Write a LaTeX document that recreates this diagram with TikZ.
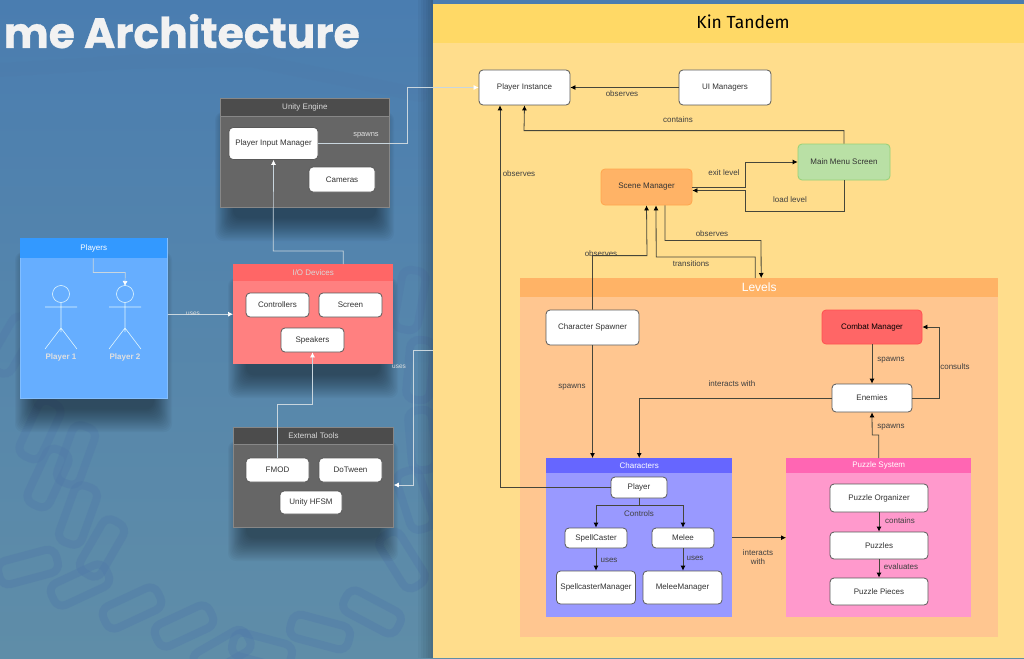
\documentclass[tikz,border=0pt]{standalone}
\usepackage{fontspec}
\setmainfont{Liberation Sans}
\newfontfamily\titlefont[BoldFeatures={FakeBold=0.7}]{Poppins}
\newfontfamily\kinfont{Fira Sans}
\usetikzlibrary{calc,arrows.meta}
\definecolor{bgtop}{HTML}{4A7DB0}
\definecolor{bgbot}{HTML}{5F8DA8}
\definecolor{chainblue}{HTML}{5079A8}
\definecolor{panelhead}{HTML}{FFD966}
\definecolor{panelbody}{HTML}{FFDD8C}
\definecolor{levelhead}{HTML}{FFB366}
\definecolor{levelbody}{HTML}{FFC690}
\definecolor{edgeline}{HTML}{C9D6DE}
\definecolor{edgedark}{HTML}{46463A}
\definecolor{menufill}{HTML}{B9E0A5}
\definecolor{menuline}{HTML}{97D077}
\definecolor{scenefill}{HTML}{FFB366}
\definecolor{sceneline}{HTML}{FFA64D}
\definecolor{combatfill}{HTML}{FF6666}
\definecolor{combatline}{HTML}{FF5050}
\definecolor{playerbody}{HTML}{66AEFF}
\definecolor{playerhead}{HTML}{3399FF}
\definecolor{playerline}{HTML}{82BEFF}
\definecolor{iobody}{HTML}{FF8080}
\definecolor{iohead}{HTML}{FF6666}
\definecolor{charbody}{HTML}{9999FF}
\definecolor{charhead}{HTML}{6666FF}
\definecolor{puzzlebody}{HTML}{FF99CC}
\definecolor{puzzlehead}{HTML}{FF66B3}
\tikzset{
    box/.style={draw=#1,fill=white,rounded corners=4,line width=.8,inner sep=0,font=\fontsize{8}{9}\selectfont,text=black!80},
    box/.default={black!65},
    lbl/.style={inner sep=0,font=\fontsize{8}{9}\selectfont,text=black!75,align=center},
    wlbl/.style={inner sep=0,font=\fontsize{7.5}{9}\selectfont,text=white!88!black},
    head/.style={inner sep=0,anchor=north,text=white,font=\fontsize{8}{9}\selectfont},
    larr/.style={edgeline,line width=.7,-{Latex[length=5,width=5,color=white]}},
    darr/.style={edgedark,line width=.8,-{Latex[length=5,width=5,color=black]}},
    limb/.style={white!88!cyan,line width=.6},
    chainlink/.style={chainblue,line width=8,rounded corners=9,opacity=.4},
}
\newcommand{\softshadow}[4]{%
    \foreach \i in {0,...,15}
        \fill[black,opacity=.032,rounded corners=8] ({#1-5+1.2*\i},{#2+14}) rectangle ({#3+5-1.2*\i},{#4+34-1.5*\i});
}
\begin{document}
\begin{tikzpicture}[x=1pt,y=-1pt]
    \useasboundingbox (0,0) rectangle (1024,658);
    \clip (0,0) rectangle (1024,658);
    % background
    \shade[top color=bgtop,bottom color=bgbot,middle color=bgbot!55!bgtop] (0,0) rectangle (1024,658);
    \draw[chainblue,line width=14,opacity=.2,line cap=round] (0,70)--(130,62)--(250,60)--(420,95);
    \foreach \x/\y/\a in {12/345/60,40/430/65,76/455/70,48/478/65,78/515/70,102/548/60,
                          28/567/15,80/585/25,132/608/25,184/626/25,222/652/30,
                          262/650/-15,320/632/-15,372/612/-28,402/560/-58,415/500/-72,422/440/-85,420/370/-95,410/300/-100}
        \draw[chainlink,rotate around={\a:(\x,\y)}] ({\x-30},{\y-12}) rectangle ({\x+30},{\y+12});
    % title
    \node[anchor=base east,inner sep=0,text=white!95!black,font=\titlefont\fontsize{42.5}{46}\selectfont\bfseries] (title) at (360,48) {me Architecture};
    % shadows
    \softshadow{220}{98}{389}{207}
    \softshadow{20}{238}{167}{398}
    \softshadow{233}{264}{393}{364}
    \softshadow{233}{427}{393}{527}
    \foreach \i in {1,...,6}
        \fill[black,opacity=.035] ({433-2.5*\i},0) rectangle (433,658);
    % kin tandem panel
    \node[fill=panelbody,inner sep=0,minimum width=591,minimum height=654,anchor=north west] (kin) at (433,4) {};
    \node[fill=panelhead,inner sep=0,minimum width=591,minimum height=39,anchor=north west] (kinhead) at (433,4) {};
    \node[inner sep=0,font=\kinfont\fontsize{17.5}{20}\selectfont,text=black] (kintitle) at (743,22) {Kin Tandem};
    % levels
    \node[fill=levelbody,inner sep=0,minimum width=478,minimum height=359,anchor=north west] (levels) at (520,278) {};
    \node[fill=levelhead,inner sep=0,minimum width=478,minimum height=19,anchor=north west,text=white,font=\fontsize{12}{14}\selectfont] (levelshead) at (520,278) {Levels};
    % unity engine
    \node[fill=black!60,draw=black!47,line width=.8,inner sep=0,minimum width=169,minimum height=109,anchor=north west] (unity) at (220,98) {};
    \node[head,fill=black!70,draw=black!47,line width=.8,minimum width=169,minimum height=18,text=white!85!black] (unityhead) at (unity.north) {Unity Engine};
    \node[box,minimum width=89,minimum height=32] (pim) at (273.5,143.5) {Player Input Manager};
    \node[box,minimum width=66,minimum height=25] (cameras) at (342,179.5) {Cameras};
    % players
    \node[fill=playerbody,draw=playerline,line width=.5,inner sep=0,minimum width=147,minimum height=160,anchor=north west] (players) at (20,238) {};
    \node[head,fill=playerhead,minimum width=147,minimum height=20] (playershead) at (players.north) {Players};
    \draw[limb] (61,294) circle (8.5);
    \draw[limb] (45,307)--(77,307) (61,302.5)--(61,332) (45,349)--(61,328)--(77,349);
    \draw[limb] (125,294) circle (8.5);
    \draw[limb] (109,307)--(141,307) (125,302.5)--(125,332) (109,349)--(125,328)--(141,349);
    \node[wlbl,font=\fontsize{8}{9}\selectfont\bfseries] (p1) at (61,357) {Player 1};
    \node[wlbl,font=\fontsize{8}{9}\selectfont\bfseries] (p2) at (125,357) {Player 2};
    \coordinate (p2head) at (125,286);
    % io devices
    \node[fill=iobody,inner sep=0,minimum width=160,minimum height=100,anchor=north west] (io) at (233,264) {};
    \node[head,fill=iohead,minimum width=160,minimum height=17,text=white!85!black] (iotitle) at (io.north) {I/O Devices};
    \node[box,minimum width=63,minimum height=24] (controllers) at (277.5,305) {Controllers};
    \node[box,minimum width=63,minimum height=24] (screen) at (350.5,305) {Screen};
    \node[box,minimum width=63,minimum height=24] (speakers) at (312.5,340) {Speakers};
    % external tools
    \node[fill=black!60,draw=black!47,line width=.8,inner sep=0,minimum width=160,minimum height=100,anchor=north west] (tools) at (233,427) {};
    \node[head,fill=black!70,draw=black!47,line width=.8,minimum width=160,minimum height=17,text=white!85!black] (toolshead) at (tools.north) {External Tools};
    \node[box,minimum width=63,minimum height=24] (fmod) at (277.5,470) {FMOD};
    \node[box,minimum width=63,minimum height=24] (dotween) at (350.5,470) {DoTween};
    \node[box,minimum width=62,minimum height=23] (hfsm) at (311,502.5) {Unity HFSM};
    % kin tandem nodes
    \node[box,minimum width=91,minimum height=35] (pinst) at (524.5,87.5) {Player Instance};
    \node[box,minimum width=92,minimum height=35] (uimgr) at (725,87.5) {UI Managers};
    \node[box=menuline,fill=menufill,minimum width=92,minimum height=36] (menu) at (844,162) {Main Menu Screen};
    \node[box=sceneline,fill=scenefill,minimum width=91,minimum height=36] (scene) at (646.5,187) {Scene Manager};
    \node[box,minimum width=93,minimum height=35] (spawner) at (592.5,327.5) {Character Spawner};
    \node[box=combatline,fill=combatfill,minimum width=100,minimum height=34,text=black] (combat) at (872,327) {Combat Manager};
    \node[box,minimum width=80,minimum height=28] (enemies) at (872,398) {Enemies};
    % characters
    \node[fill=charbody,inner sep=0,minimum width=186,minimum height=159,anchor=north west] (chars) at (546,458) {};
    \node[head,fill=charhead,minimum width=186,minimum height=15] (charshead) at (chars.north) {Characters};
    \node[box,minimum width=56,minimum height=21] (player) at (639,487.5) {Player};
    \node[box,minimum width=62,minimum height=20] (spell) at (596,538) {SpellCaster};
    \node[box,minimum width=62,minimum height=20] (melee) at (683,538) {Melee};
    \node[box,minimum width=79,minimum height=33] (spellmgr) at (596,587.5) {SpellcasterManager};
    \node[box,minimum width=79,minimum height=33] (meleemgr) at (682.5,587.5) {MeleeManager};
    % puzzle system
    \node[fill=puzzlebody,inner sep=0,minimum width=185,minimum height=159,anchor=north west] (puzzle) at (786,458) {};
    \node[head,fill=puzzlehead,minimum width=185,minimum height=15] (puzzletitle) at (puzzle.north) {Puzzle System};
    \node[box,minimum width=98,minimum height=28] (organizer) at (879,498) {Puzzle Organizer};
    \node[box,minimum width=98,minimum height=27] (puzzles) at (879,545.5) {Puzzles};
    \node[box,minimum width=98,minimum height=27] (pieces) at (879,591.5) {Puzzle Pieces};
    % light connectors
    \draw[larr] (pim.east) -- ++(89,0) |- (pinst.west);
    \draw[larr] ($(io.north)+(30,0)$) |- ++(-70,-13) -- (pim.south);
    \draw[larr] ($(playershead.south)+(-.5,0)$) |- ++(32,14) -- (p2head);
    \draw[larr] (players.east |- io.west) -- (io.west);
    \draw[larr] (fmod.north) |- ++(35,-53) -- (speakers.south);
    \draw[larr] (kin.west |- 0,350) -| (413,485) -- (tools.east |- 0,485);
    % dark connectors
    \draw[darr] (uimgr.west) -- (pinst.east);
    \draw[darr] (menu.north) |- ++(-320,-13) -- (pinst.south);
    \draw[darr] (scene.east) -- ++(53,0) |- (menu.west);
    \draw[darr] (menu.south) |- ++(-99,31) |- ($(scene.east)+(0,3.5)$);
    \draw[darr] (spawner.north) |- ++(54.5,-54) -- (scene.south);
    \draw[darr] ($(levels.north)+(-4,0)$) |- ++(-99,-21) -- ($(scene.south)+(9.5,0)$);
    \draw[darr] ($(scene.south)+(18.5,0)$) |- ++(96,35) -- ($(levels.north)+(2,0)$);
    \draw[darr] (player.west) -| ($(pinst.south)+(-24.5,0)$);
    \draw[darr] (spawner.south) -- (spawner.south |- chars.north);
    \draw[darr] (combat.south) -- (enemies.north);
    \draw[darr] (enemies.east) -| (939,327) -- (combat.east);
    \draw[darr] (enemies.west) -| (chars.north);
    \draw[darr] (puzzle.north) |- ++(-6.5,-23) -- (enemies.south);
    \draw[darr] (player.south) |- ++(-43,7) -- (spell.north);
    \draw[darr] (player.south) |- ++(44,7) -- (melee.north);
    \draw[darr] (spell.south) -- (spellmgr.north);
    \draw[darr] (melee.south) -- (melee.south |- meleemgr.north);
    \draw[darr] (chars.east) -- (puzzle.west);
    \draw[darr] (organizer.south) -- (puzzles.north);
    \draw[darr] (puzzles.south) -- (pieces.north);
    % labels
    \node[wlbl] (lspawnsa) at (366,135) {spawns};
    \node[wlbl,font=\fontsize{6.5}{8}\selectfont] (lusesa) at (193,314) {uses};
    \node[wlbl,font=\fontsize{6.5}{8}\selectfont] (lusesb) at (399,367) {uses};
    \node[lbl] (lobsa) at (622,94) {observes};
    \node[lbl] (lcontains) at (678,120) {contains};
    \node[lbl] (lobsb) at (519,174) {observes};
    \node[lbl] (lexit) at (724,173) {exit level};
    \node[lbl] (lload) at (790,200) {load level};
    \node[lbl] (lobsc) at (601,254) {observes};
    \node[lbl] (lobsd) at (712,234) {observes};
    \node[lbl] (ltrans) at (691,264) {transitions};
    \node[lbl] (lspawnsb) at (572,387) {spawns};
    \node[lbl] (lspawnsc) at (891,360) {spawns};
    \node[lbl] (lspawnsd) at (891,427) {spawns};
    \node[lbl] (lconsults) at (955,367) {consults};
    \node[lbl] (linter) at (732,384) {interacts with};
    \node[lbl] (lintertwo) at (758,557) {interacts\\with};
    \node[lbl] (lcontrols) at (639,514) {Controls};
    \node[lbl] (lusesc) at (609,560) {uses};
    \node[lbl] (lusesd) at (695,558) {uses};
    \node[lbl] (lcontainsb) at (900,521) {contains};
    \node[lbl] (leval) at (901,567) {evaluates};
\end{tikzpicture}
\end{document}
